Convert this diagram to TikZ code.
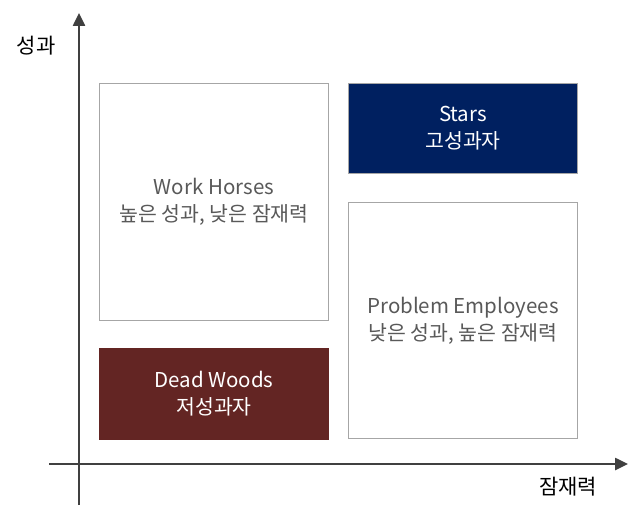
\documentclass[tikz,border=0pt]{standalone}
\usepackage{fontspec}
\setmainfont{Noto Sans CJK KR}
\usetikzlibrary{arrows.meta}
\definecolor{axisgray}{HTML}{404040}
\definecolor{boxline}{HTML}{A6A6A6}
\definecolor{txtgray}{HTML}{595959}
\definecolor{navy}{HTML}{002060}
\definecolor{maroon}{HTML}{632523}
\tikzset{
  axis/.style={draw=axisgray,line width=2.5pt,-{Triangle[length=13pt,width=12pt]}},
  quad/.style={draw=boxline,line width=1pt,minimum width=229pt,anchor=north west,align=center,inner sep=0pt,font=\fontsize{20.5}{27}\selectfont},
  lightq/.style={quad,fill=white,text=txtgray},
  axlabel/.style={font=\fontsize{21}{25}\selectfont,text=black}
}
\begin{document}
\begin{tikzpicture}[x=1pt,y=-1pt]
\useasboundingbox (0,0) rectangle (640,519);
\coordinate (ybot) at (79,505);
\coordinate (ytop) at (79,13);
\coordinate (xl) at (49,464);
\coordinate (xr) at (628,464);
\draw[axis] (ybot) -- (ytop);
\draw[axis] (xl) -- (xr);
\node[axlabel] (yl) at (36,46) {성과};
\node[axlabel] (xlab) at (568,487) {잠재력};
\node[lightq,minimum height=237pt] (wh) at (99,83) {Work Horses\\높은 성과, 낮은 잠재력};
\node[quad,fill=navy,text=white,minimum height=90pt] (st) at (348,83) {Stars\\고성과자};
\node[lightq,minimum height=236pt] (pe) at (348,202) {Problem Employees\\낮은 성과, 높은 잠재력};
\node[quad,draw=maroon,fill=maroon,text=white,minimum height=91pt] (dw) at (99,348) {Dead Woods\\저성과자};
\end{tikzpicture}
\end{document}
